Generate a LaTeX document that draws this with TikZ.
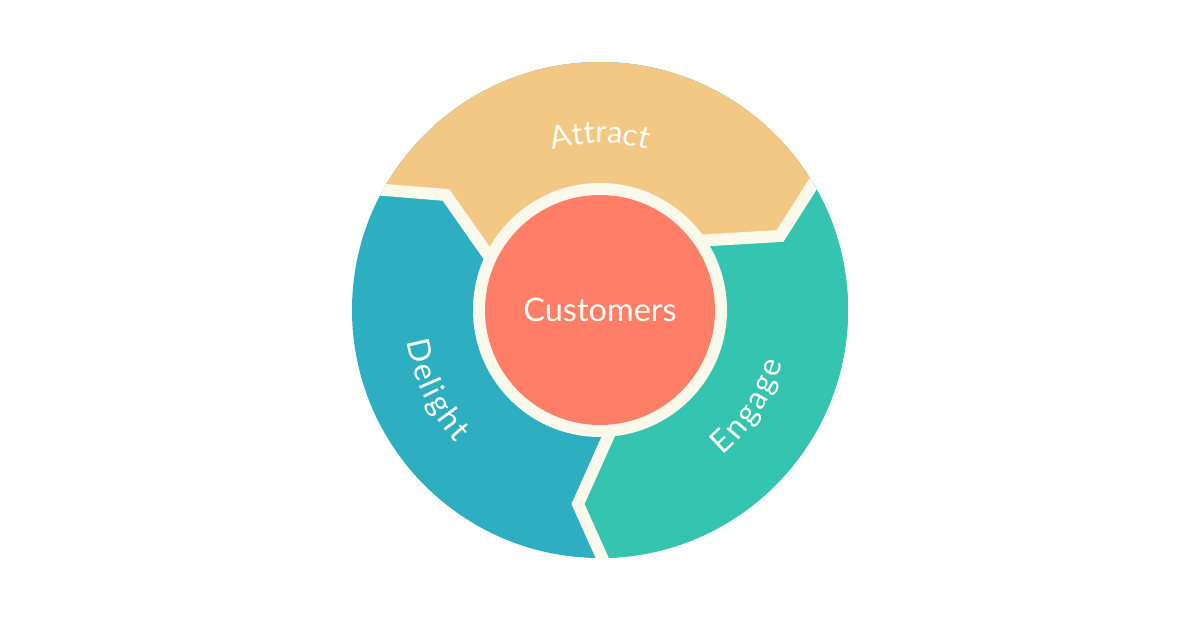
\documentclass[tikz,border=0pt]{standalone}
\usepackage{fontspec}
\newfontfamily\labelfont{Lato}
\usetikzlibrary{decorations.text}
\definecolor{attractc}{HTML}{F3C884}
\definecolor{delightc}{HTML}{2DAEC1}
\definecolor{engagec}{HTML}{34C4AF}
\definecolor{redc}{HTML}{FF7E67}
\definecolor{creamc}{HTML}{FBF8EC}
\definecolor{textc}{HTML}{FFFDF6}
\newcommand{\gapk}{{\kern2.2pt}}
\begin{document}
\begin{tikzpicture}[x=1pt,y=1pt,
  band/.style={draw=creamc, line width=12pt, line join=miter},
  arclabel/.style={decorate, decoration={text along path, text align=center, text color=textc, text={#1}}}]
\useasboundingbox (0,0) rectangle (1200,628);
\fill[white] (0,0) rectangle (1200,628);
\coordinate (C) at (600,318);
% boundary points
\coordinate (adO) at (250,449);
\coordinate (adK) at (446,433);
\coordinate (adI) at (493,366);
\coordinate (aeI) at (695,387);
\coordinate (aeK) at (780,392);
\coordinate (aeO) at (880,549);
\coordinate (deI) at (612,200);
\coordinate (deK) at (578,124);
\coordinate (deO) at (656,-50);
\begin{scope}
  \clip (C) circle (248);
  \fill[delightc] (C) circle (250);
  \fill[attractc] (adO) -- (adK) -- (adI) -- (C) -- (aeI) -- (aeK) -- (aeO) -- (880,640) -- (250,640) -- cycle;
  \fill[engagec] (C) -- (aeI) -- (aeK) -- (aeO) -- (1000,549) -- (1000,-50) -- (deO) -- (deK) -- (deI) -- cycle;
  \draw[band] (adO) -- (adK) -- (adI) -- (C);
  \draw[band] (aeO) -- (aeK) -- (aeI) -- (C);
  \draw[band] (deO) -- (deK) -- (deI) -- (C);
\end{scope}
\fill[creamc] (C) circle (127);
\node[circle, fill=redc, minimum size=230pt, inner sep=0pt, text=textc,
      font=\labelfont\fontsize{32.5}{32.5}\selectfont] (cust) at (C) {Customers};
% curved labels
\path[arclabel={|\labelfont\fontsize{31}{31}\selectfont|Attract}]
  ([shift={(125:167)}]C) arc[start angle=125, end angle=55, radius=167];
\path[arclabel={|\labelfont\fontsize{31.5}{31.5}\selectfont|D{\kern2.2pt}e{\kern2.2pt}l{\kern2.2pt}i{\kern2.2pt}g{\kern2.2pt}h{\kern2.2pt}t}]
  ([shift={(160:196)}]C) arc[start angle=160, end angle=252, radius=196];
\path[arclabel={|\labelfont\fontsize{31.5}{31.5}\selectfont|E{\kern2.2pt}n{\kern2.2pt}g{\kern2.2pt}a{\kern2.2pt}g{\kern2.2pt}e}]
  ([shift={(-82:190)}]C) arc[start angle=-82, end angle=16, radius=190];
\end{tikzpicture}
\end{document}
